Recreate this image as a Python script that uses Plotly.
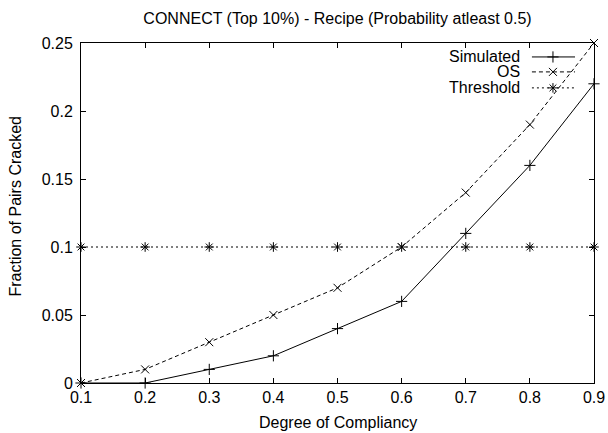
import plotly.graph_objects as go

compliancy = [0.1, 0.2, 0.3, 0.4, 0.5, 0.6, 0.7, 0.8, 0.9]
simulated = [0.0, 0.0, 0.01, 0.02, 0.04, 0.06, 0.11, 0.16, 0.22]
os_vals = [0.0, 0.01, 0.03, 0.05, 0.07, 0.10, 0.14, 0.19, 0.25]
threshold = [0.1, 0.1, 0.1, 0.1, 0.1, 0.1, 0.1, 0.1, 0.1]
series_names = ["Simulated", "OS", "Threshold"]

FONT = "Liberation Sans, Arial, Helvetica, sans-serif"
FS = 16
styles = {
    "Simulated": dict(dash="solid", symbol="cross-thin-open"),
    "OS": dict(dash="4px,3px", symbol="x-thin-open"),
    "Threshold": dict(dash="2px,3px", symbol="asterisk-open"),
}
values = {"Simulated": simulated, "OS": os_vals, "Threshold": threshold}

fig = go.Figure()
for name in series_names:
    st = styles[name]
    fig.add_trace(go.Scatter(
        x=compliancy, y=values[name], mode="lines+markers", name=name,
        line=dict(color="black", width=1, dash=st["dash"]),
        marker=dict(symbol=st["symbol"], size=8, color="black",
                    line=dict(color="black", width=1)),
        cliponaxis=False, showlegend=False,
    ))

# Manual gnuplot-style legend (text right-aligned, sample line with marker on the right)
leg_y = [0.959, 0.915, 0.868]
for i, name in enumerate(series_names):
    st = styles[name]
    fig.add_trace(go.Scatter(
        x=[0.879, 0.920, 0.963], y=[leg_y[i]] * 3, mode="lines",
        line=dict(color="black", width=1, dash=st["dash"]),
        xaxis="x2", yaxis="y2", showlegend=False, hoverinfo="skip",
    ))
    fig.add_trace(go.Scatter(
        x=[0.920], y=[leg_y[i]], mode="markers",
        marker=dict(symbol=st["symbol"], size=8, color="black",
                    line=dict(color="black", width=1)),
        xaxis="x2", yaxis="y2", showlegend=False, hoverinfo="skip",
    ))
    fig.add_annotation(
        x=0.860, y=leg_y[i], xref="x2", yref="y2", text=name,
        showarrow=False, xanchor="right", yanchor="middle",
        font=dict(family=FONT, size=FS, color="black"),
    )

# Axis titles
fig.add_annotation(
    x=0.5, y=-0.1176, xref="paper", yref="paper", text="Degree of Compliancy",
    showarrow=False, xanchor="center", yanchor="middle",
    font=dict(family=FONT, size=FS, color="black"),
)
fig.add_annotation(
    x=-0.128, y=0.52, xref="paper", yref="paper", text="Fraction of Pairs Cracked",
    showarrow=False, xanchor="center", yanchor="middle", textangle=-90,
    font=dict(family=FONT, size=FS, color="black"),
)

axis_common = dict(
    showgrid=False, zeroline=False, showline=True, linecolor="black",
    linewidth=1, mirror="ticks", ticks="inside", ticklen=5,
    tickcolor="black", tickwidth=1, automargin=False,
    tickfont=dict(family=FONT, size=FS, color="black"),
)

L, R, T, B = 81, 14, 43, 50
fig.update_layout(
    width=608, height=433,
    margin=dict(l=L, r=R, t=T, b=B),
    paper_bgcolor="white", plot_bgcolor="white",
    title=dict(text="CONNECT (Top 10%) - Recipe (Probability atleast 0.5)",
               x=(L + 608 - R) / 2 / 608, xanchor="center",
               y=1 - 18 / 433, yanchor="middle",
               font=dict(family=FONT, size=FS, color="black")),
    xaxis=dict(range=[0.1, 0.9], dtick=0.1, tick0=0.1, **axis_common),
    yaxis=dict(range=[0, 0.25], dtick=0.05, tick0=0, ticklabelstandoff=4,
               **axis_common),
    xaxis2=dict(overlaying="x", range=[0, 1], visible=False, automargin=False),
    yaxis2=dict(overlaying="y", range=[0, 1], visible=False, automargin=False),
    showlegend=False,
)

fig.write_html(
    "out.html",
    config={"displayModeBar": False},
    post_script="document.body.style.margin='0';document.body.style.overflow='hidden';",
)
